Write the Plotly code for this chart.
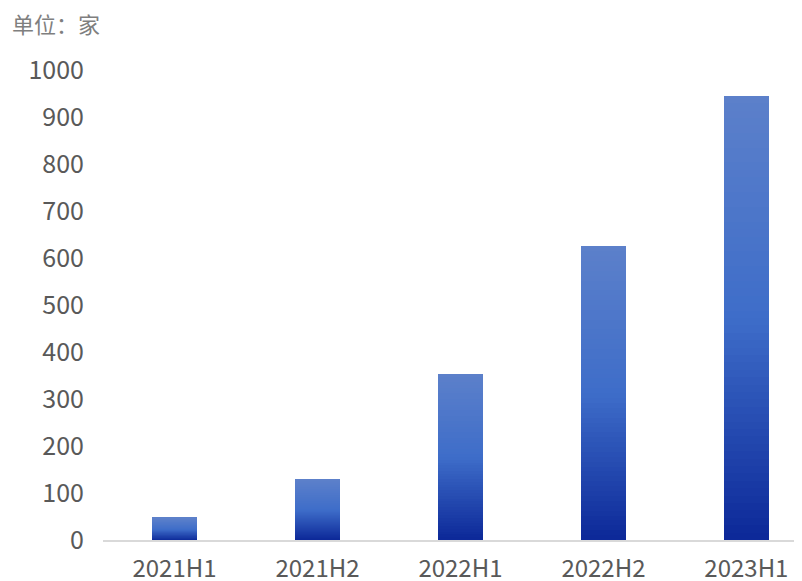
import plotly.graph_objects as go

categories = ["2021H1", "2021H2", "2022H1", "2022H2", "2023H1"]
values = [47, 128, 353, 625, 945]
y_ticks = [0, 100, 200, 300, 400, 500, 600, 700, 800, 900, 1000]

FONT = "Noto Sans CJK SC"
N = 60
stops = [(0.0, (0x5c, 0x80, 0xca)), (0.5, (0x3e, 0x6d, 0xc9)), (1.0, (0x0c, 0x28, 0x98))]


def color_at(t):
    for (t0, c0), (t1, c1) in zip(stops[:-1], stops[1:]):
        if t <= t1:
            f = (t - t0) / (t1 - t0)
            r, g, b = (round(a + (bb - a) * f) for a, bb in zip(c0, c1))
            return f"rgb({r},{g},{b})"
    return "rgb(12,40,152)"


fig = go.Figure()
# stacked segments from bottom (dark) to top (light) to emulate vertical gradient
for k in range(N):
    t_from_top = 1 - (k + 0.5) / N
    fig.add_trace(go.Bar(
        x=categories,
        y=[v / N for v in values],
        width=0.315,
        marker=dict(color=color_at(t_from_top), line=dict(width=0)),
        showlegend=False,
        hoverinfo="skip",
    ))

fig.update_layout(
    barmode="stack",
    width=794,
    height=573,
    margin=dict(l=95, r=2, t=62, b=41),
    paper_bgcolor="white",
    plot_bgcolor="white",
    font=dict(family=FONT, color="#595959", size=25),
    xaxis=dict(
        type="category",
        range=[-0.5, 4.375],
        automargin=False,
        showgrid=False,
        showline=True,
        linecolor="#d9d9d9",
        linewidth=1.5,
        ticks="",
        ticklabelstandoff=6,
        tickfont=dict(family=FONT, size=24, color="#595959"),
    ),
    yaxis=dict(
        range=[0, 1000],
        tickvals=y_ticks,
        automargin=False,
        showgrid=False,
        zeroline=False,
        showline=False,
        ticks="",
        ticklabelstandoff=18,
        tickfont=dict(family=FONT, size=25, color="#595959"),
    ),
    annotations=[dict(
        text="单位：家",
        xref="paper", yref="paper",
        x=-95 / 697, y=1 + 47 / 470,
        xanchor="left", yanchor="middle",
        xshift=2,
        showarrow=False,
        font=dict(family=FONT, size=22, color="#7f7f7f"),
    )],
)

fig.write_html("out.html")
